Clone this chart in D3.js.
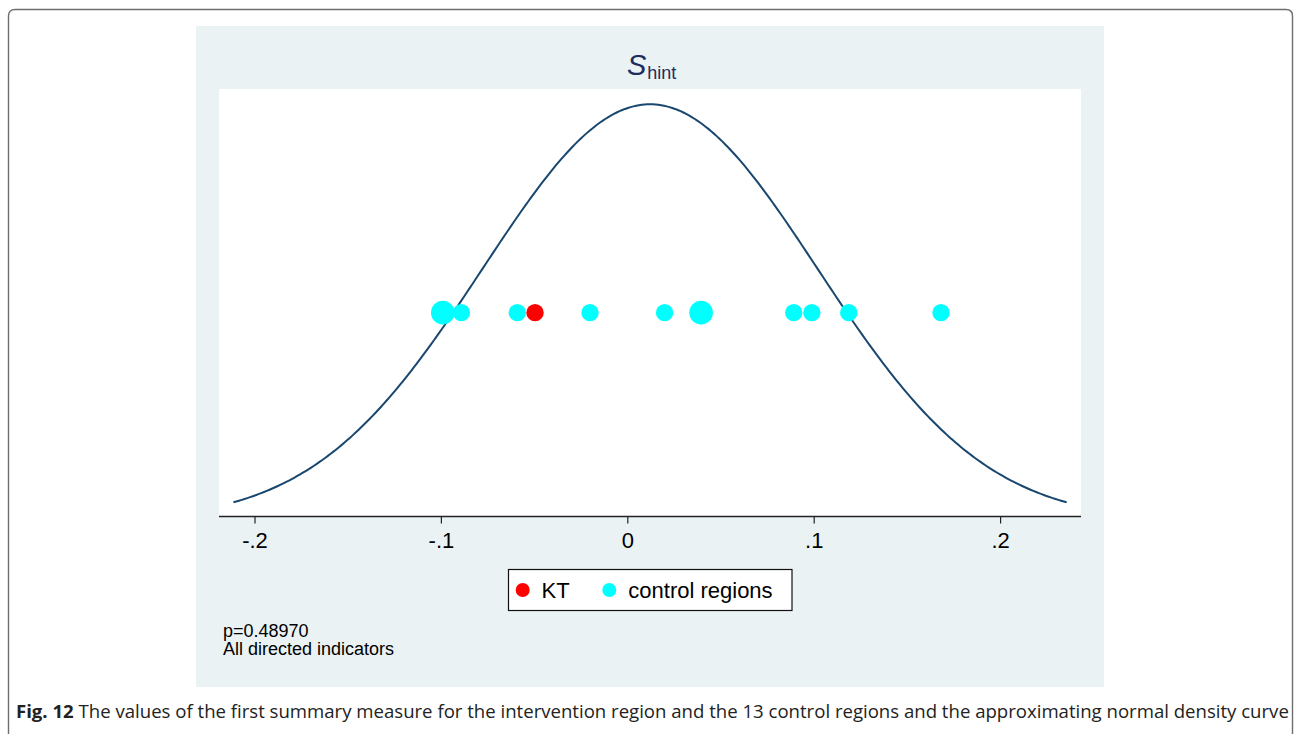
<!DOCTYPE html>
<html>
<head>
<meta charset="utf-8">
<script src="https://cdn.jsdelivr.net/npm/d3@7"></script>
<style>
  html, body { margin: 0; padding: 0; background: #ffffff; }
  svg { display: block; }
</style>
</head>
<body>
<svg id="chart" width="1294" height="734"></svg>
<script>
// ---------- data ----------
const xTicks = [-0.2, -0.1, 0, 0.1, 0.2];
const xTickLabels = ["-.2", "-.1", "0", ".1", ".2"];
const controlValues = [-0.099, -0.089, -0.059, -0.020, 0.020, 0.0396, 0.0893, 0.099, 0.1188, 0.1683];
const controlCounts = [2, 1, 1, 1, 1, 2, 1, 1, 1, 1];
const ktValues = [-0.0495];
const curveMean = 0.0122;
const curveSD = 0.0897;
const curveRange = [-0.2113, 0.2357];
const legendLabels = ["KT", "control regions"];
const noteLines = ["p=0.48970", "All directed indicators"];
const captionBold = "Fig. 12";
const captionText = " The values of the first summary measure for the intervention region and the 13 control regions and the approximating normal density curve";

// ---------- setup ----------
const svg = d3.select("#chart");
const navy = "#1a476f";
const font = "'Liberation Sans', Arial, Helvetica, sans-serif";

// outer page frame
svg.append("path")
  .attr("d", "M8.5,760 L8.5,16 Q8.5,9.5 15,9.5 L1286,9.5 Q1292.5,9.5 1292.5,16 L1292.5,760")
  .attr("fill", "none").attr("stroke", "#6e6e6e").attr("stroke-width", 1.4);

// graph region
svg.append("rect").attr("x", 196).attr("y", 26).attr("width", 908).attr("height", 661)
  .attr("fill", "#eaf2f3");

// plot region
const plot = { left: 219, right: 1081, top: 89, bottom: 516.5 };
svg.append("rect").attr("x", plot.left).attr("y", plot.top)
  .attr("width", plot.right - plot.left).attr("height", plot.bottom - plot.top)
  .attr("fill", "#ffffff");

// scales
const x = d3.scaleLinear().domain([-0.2, 0.2]).range([254.5, 1000.1]);
const normalDensity = v => Math.exp(-((v - curveMean) ** 2) / (2 * curveSD * curveSD)) / (curveSD * Math.sqrt(2 * Math.PI));
const peak = normalDensity(curveMean);
const y = d3.scaleLinear().domain([0, peak]).range([521, 104.3]);
const pointY = peak / 2;
const rScale = d3.scaleLinear().domain([1, 2]).range([8.7, 11.8]);

// curve
const curvePts = d3.range(0, 301).map(i => {
  const v = curveRange[0] + (curveRange[1] - curveRange[0]) * i / 300;
  return [v, normalDensity(v)];
});
svg.append("path")
  .datum(curvePts)
  .attr("d", d3.line().x(d => x(d[0])).y(d => y(d[1])))
  .attr("fill", "none").attr("stroke", navy).attr("stroke-width", 2);

// control points
svg.append("g").selectAll("circle")
  .data(controlValues.map((v, i) => ({ v, c: controlCounts[i] })))
  .join("circle")
  .attr("cx", d => x(d.v)).attr("cy", y(pointY))
  .attr("r", d => rScale(d.c))
  .attr("fill", "#00ffff");

// KT point
svg.append("g").selectAll("circle")
  .data(ktValues)
  .join("circle")
  .attr("cx", d => x(d)).attr("cy", y(pointY))
  .attr("r", 8.7)
  .attr("fill", "#ff0000");

// x axis
const axisG = svg.append("g").attr("transform", `translate(0,${plot.bottom})`);
axisG.append("line").attr("x1", plot.left).attr("x2", plot.right)
  .attr("y1", 0).attr("y2", 0).attr("stroke", "#222").attr("stroke-width", 1.6);
const axis = d3.axisBottom(x).tickValues(xTicks)
  .tickFormat((d, i) => xTickLabels[i]).tickSize(7).tickPadding(9);
const ag = axisG.append("g").call(axis);
ag.select(".domain").remove();
ag.selectAll(".tick line").attr("stroke", "#222").attr("stroke-width", 1.2);
ag.selectAll(".tick text")
  .attr("font-family", font)
  .attr("font-size", 22).attr("fill", "#000");

// title
const title = svg.append("text").attr("x", 627).attr("y", 74.5)
  .attr("text-anchor", "start").attr("fill", "#1e2d5c")
  .attr("font-family", font);
title.append("tspan").attr("font-size", 29).attr("font-style", "italic").text("S");
title.append("tspan").attr("font-size", 18).attr("dy", 4).attr("dx", 1).text("hint");

// legend
const lg = svg.append("g");
lg.append("rect").attr("x", 508.5).attr("y", 569.5).attr("width", 283.5).attr("height", 41)
  .attr("fill", "#ffffff").attr("stroke", "#111").attr("stroke-width", 1.2);
const legendItems = [
  { label: legendLabels[0], color: "#ff0000", cx: 522.7, tx: 541.5 },
  { label: legendLabels[1], color: "#00ffff", cx: 609.3, tx: 628.3 }
];
legendItems.forEach(it => {
  lg.append("circle").attr("cx", it.cx).attr("cy", 590).attr("r", 7).attr("fill", it.color);
  lg.append("text").attr("x", it.tx).attr("y", 598)
    .attr("font-family", font)
    .attr("font-size", 22).attr("fill", "#000").text(it.label);
});

// note
noteLines.forEach((t, i) => {
  svg.append("text").attr("x", 223).attr("y", 636.5 + i * 18.5)
    .attr("font-family", font)
    .attr("font-size", 18).attr("fill", "#000").text(t);
});

// caption
const cap = svg.append("text").attr("x", 0).attr("y", 0)
  .attr("font-family", "'Open Sans', 'Noto Sans', sans-serif")
  .attr("font-size", 18.5).attr("fill", "#222");
cap.append("tspan").attr("font-weight", "bold").text(captionBold);
cap.append("tspan").text(captionText);
const w = cap.node().getComputedTextLength();
const targetW = 1274;
cap.attr("transform", `translate(16,718) scale(${targetW / w},1)`);
</script>
</body>
</html>
